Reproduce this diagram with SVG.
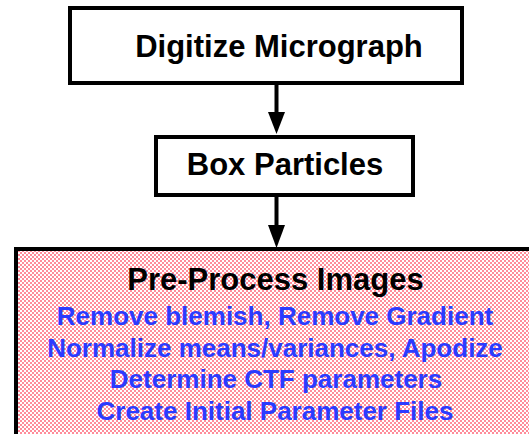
<svg xmlns="http://www.w3.org/2000/svg" width="529" height="434" viewBox="0 0 529 434">
  <style>
    .box { fill: #ffffff; stroke: #000000; stroke-width: 4; }
    .title { font-family: "Liberation Sans", Arial, sans-serif; font-weight: bold; font-size: 31px; fill: #000000; text-anchor: middle; }
    .step { font-family: "Liberation Sans", Arial, sans-serif; font-weight: bold; font-size: 26px; fill: #2b3bff; text-anchor: middle; }
    .conn { stroke: #000000; stroke-width: 4; fill: none; }
  </style>
  <defs>
    <pattern id="dither" width="4" height="4" patternUnits="userSpaceOnUse">
      <rect width="4" height="4" fill="#ffffff"/>
      <rect x="0" y="0" width="2" height="2" fill="#ff8c9a"/>
      <rect x="2" y="2" width="2" height="2" fill="#ff8c9a"/>
    </pattern>
  </defs>

  <rect width="529" height="434" fill="#ffffff"/>

  <g id="digitize">
    <rect class="box" x="70" y="8" width="392" height="75"/>
    <text class="title" x="279" y="57">Digitize Micrograph</text>
  </g>

  <g id="box-particles">
    <rect class="box" x="156" y="137" width="257" height="58"/>
    <text class="title" x="285" y="175">Box Particles</text>
  </g>

  <!-- panel runs past the right and bottom edges -->
  <g id="pre-process">
    <rect x="16" y="249" width="600" height="260" fill="url(#dither)" stroke="#000000" stroke-width="4"/>
    <text class="title" x="275.5" y="290">Pre-Process Images</text>
    <text class="step" x="275" y="325">Remove blemish, Remove Gradient</text>
    <text class="step" x="275" y="357">Normalize means/variances, Apodize</text>
    <text class="step" x="276" y="388">Determine CTF parameters</text>
    <text class="step" x="275" y="420">Create Initial Parameter Files</text>
  </g>

  <g id="connectors">
    <line class="conn" x1="276.5" y1="85" x2="276.5" y2="114"/>
    <path d="M268,112 L285,112 L276.5,134 Z" fill="#000000"/>
    <line class="conn" x1="276.5" y1="197" x2="276.5" y2="227"/>
    <path d="M268,225 L285,225 L276.5,248 Z" fill="#000000"/>
  </g>
</svg>
